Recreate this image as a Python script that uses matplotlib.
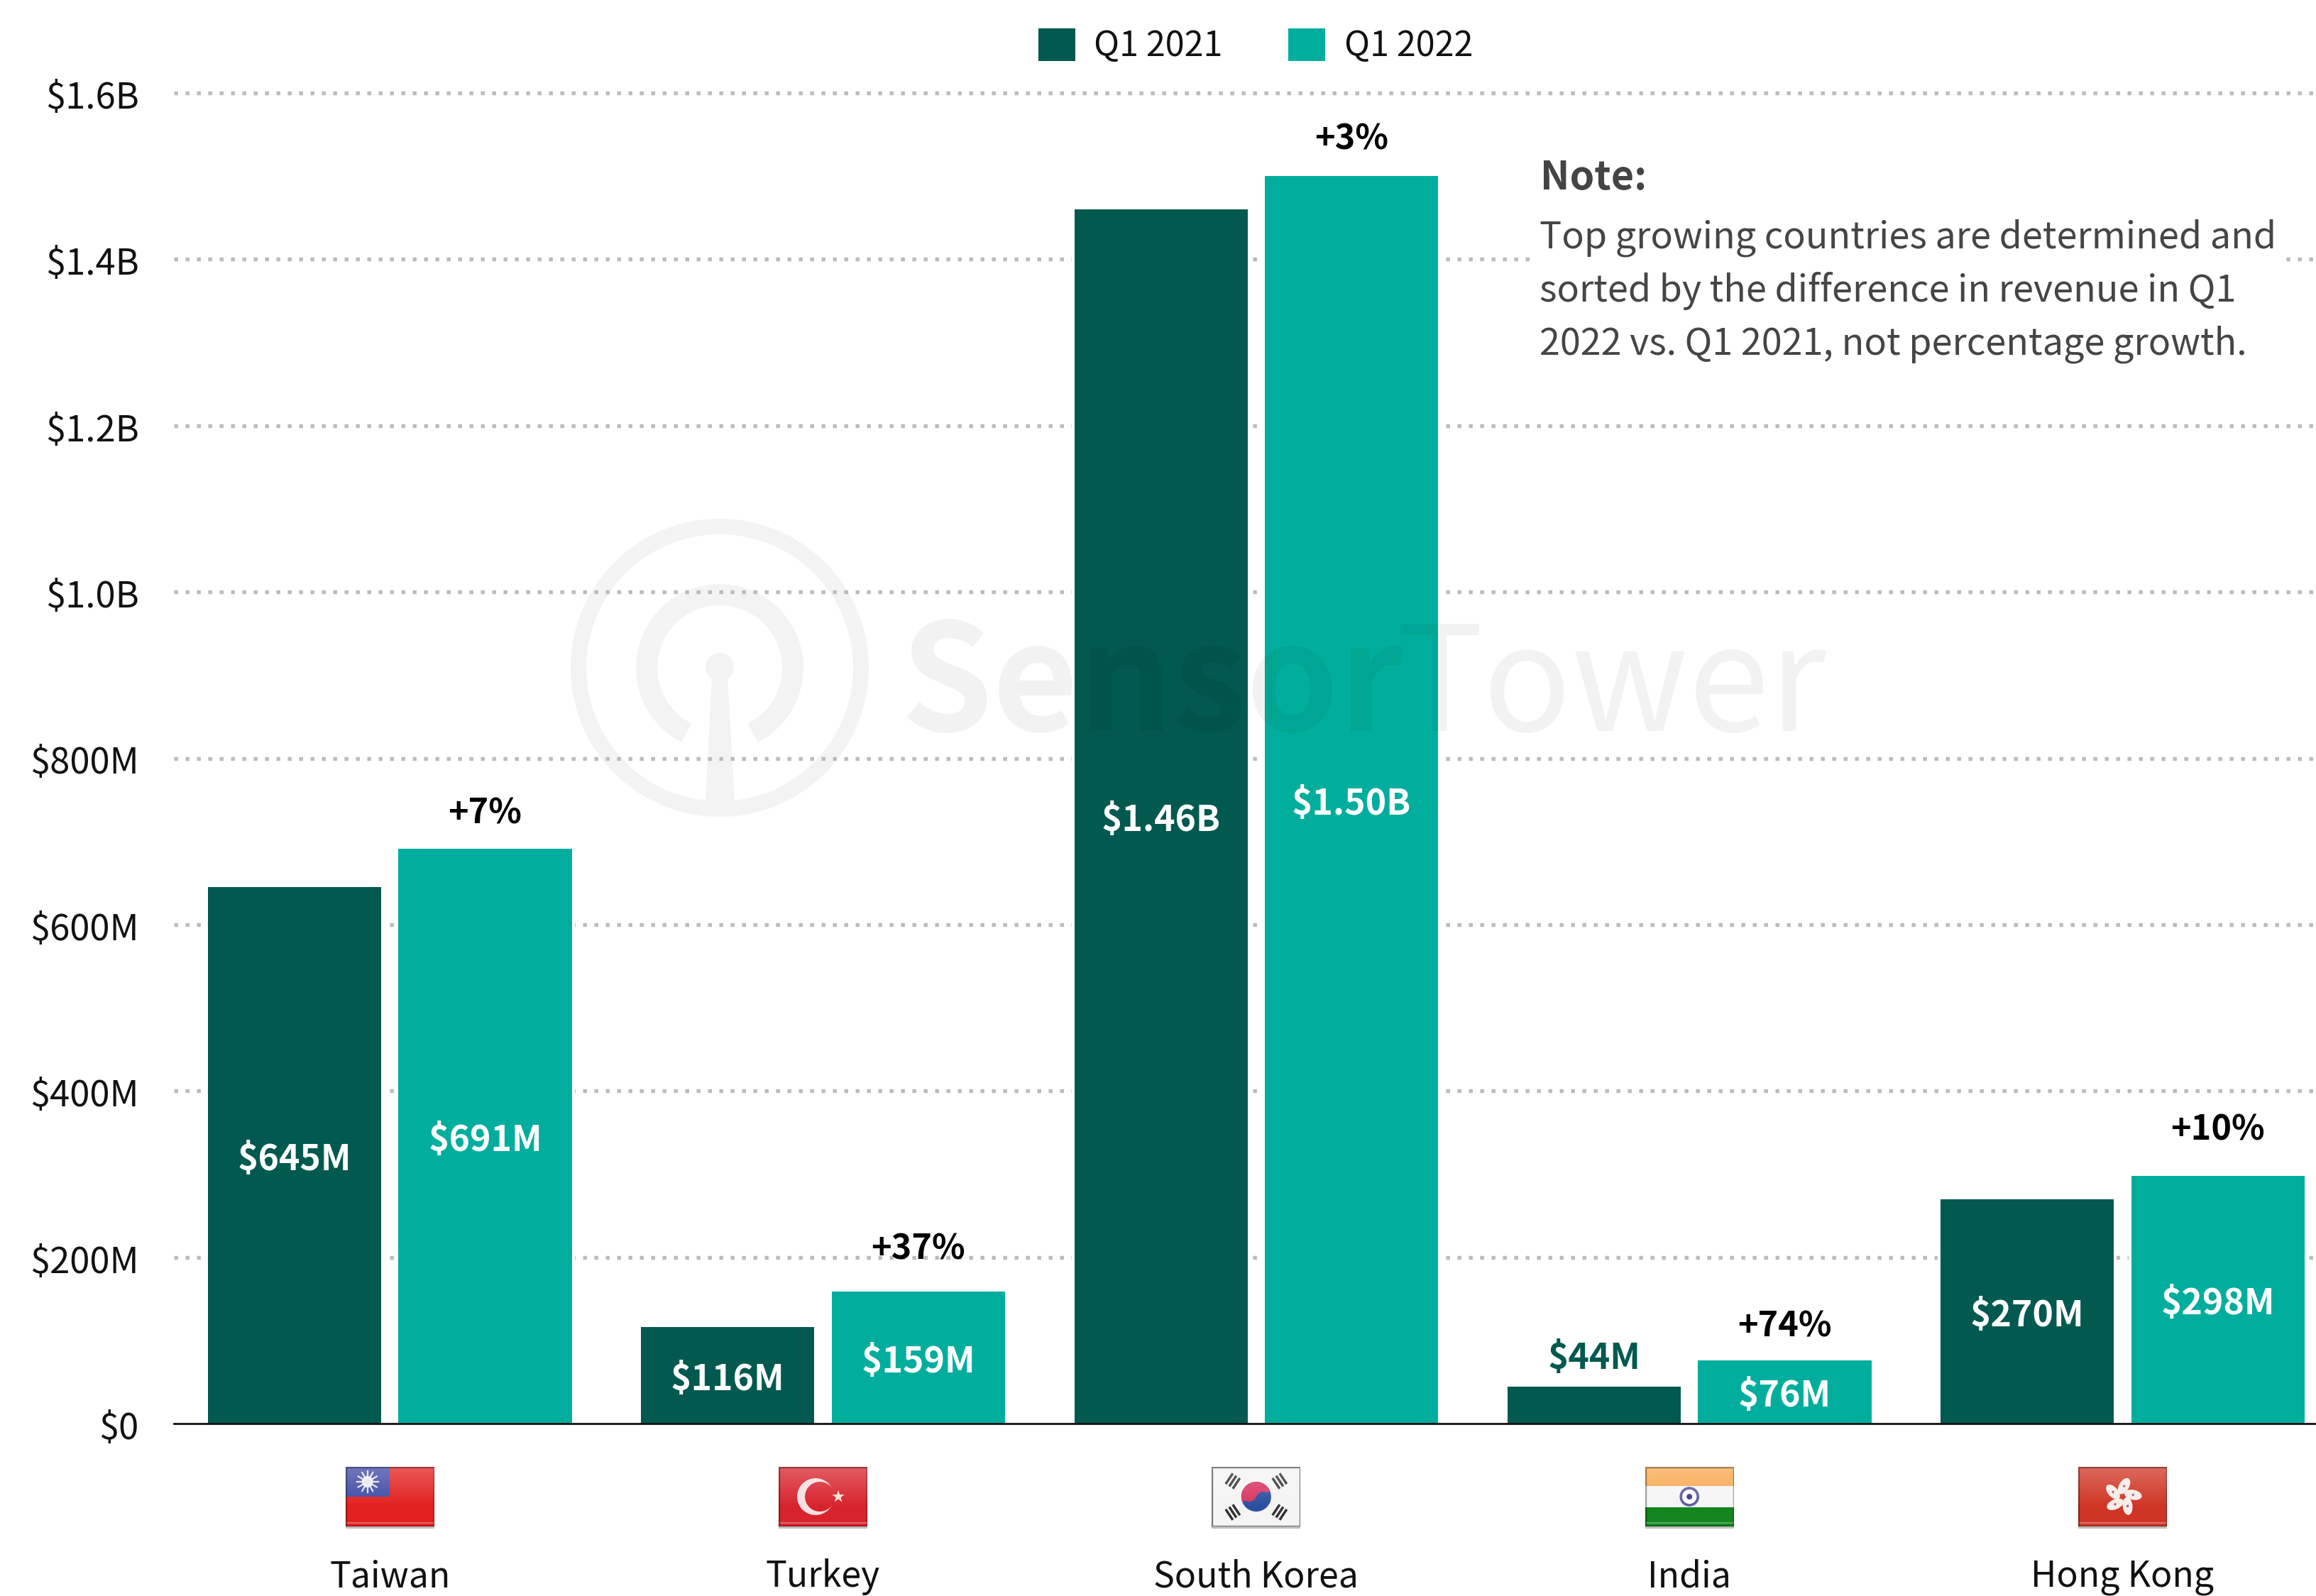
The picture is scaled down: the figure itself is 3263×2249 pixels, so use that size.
import numpy as np
import matplotlib
matplotlib.use('Agg')
import matplotlib.pyplot as plt
from matplotlib.patches import Circle, Wedge, Polygon, Rectangle, Ellipse
from matplotlib.transforms import ScaledTranslation

countries = ['Taiwan', 'Turkey', 'South Korea', 'India', 'Hong Kong']
rev_2021 = [645, 116, 1460, 44, 270]
rev_2022 = [691, 159, 1500, 76, 298]
labels_2021 = ['$645M', '$116M', '$1.46B', '$44M', '$270M']
labels_2022 = ['$691M', '$159M', '$1.50B', '$76M', '$298M']
growth = ['+7%', '+37%', '+3%', '+74%', '+10%']
y_ticks = [0, 200, 400, 600, 800, 1000, 1200, 1400, 1600]
y_labels = ['$0', '$200M', '$400M', '$600M', '$800M', '$1.0B', '$1.2B', '$1.4B', '$1.6B']

DARK = '#02594f'
TEAL = '#01ae9d'
W, H = 3263, 2249
FONT = ['Noto Sans CJK JP', 'DejaVu Sans']

plt.rcParams['font.family'] = FONT
plt.rcParams['lines.scale_dashes'] = False

fig = plt.figure(figsize=(W / 100, H / 100), dpi=100, facecolor='white')

# watermark logo sits behind everything
bg = fig.add_axes([0, 0, 1, 1], zorder=0)
bg.set_xlim(0, W)
bg.set_ylim(H, 0)
bg.axis('off')
mark = '#f3f3f3'
bg.add_patch(Wedge((1014, 941), 210, 0, 360, width=22, fc=mark, ec='none'))
bg.add_patch(Wedge((1014, 941), 118, 117, 423, width=30, fc=mark, ec='none'))
bg.add_patch(Ellipse((1014, 940), 40, 40, fc=mark, ec='none'))
bg.add_patch(Polygon([(1003, 955), (1025, 955), (1036, 1148), (993, 1148)], fc=mark, ec='none'))

ax = fig.add_axes([245 / W, (H - 2006) / H, (W - 245) / W, (2006 - 131) / H], zorder=1)
ax.patch.set_visible(False)

x = np.arange(len(countries))
bar_w = 0.4
off = 0.22
growth_pad = [22, 30, 24, 20, 34]

ax.set_xlim(-0.4985, 4.4465)
ax.set_ylim(0, 1600)
ax.set_yticks(y_ticks, y_labels, fontsize=36.5, color='#111111')
ax.set_xticks(x, countries, fontsize=36, color='#111111')
ax.tick_params(axis='y', length=0, pad=35.5)
ax.tick_params(axis='x', length=0, pad=137)
nudge = ScaledTranslation(0, -2 / 100, fig.dpi_scale_trans)
for lbl in ax.get_yticklabels():
    lbl.set_transform(lbl.get_transform() + nudge)
for s in ['top', 'left', 'right']:
    ax.spines[s].set_visible(False)
ax.spines['bottom'].set_linewidth(2)
ax.spines['bottom'].set_color('#111111')
ax.spines['bottom'].set_zorder(6)

for t in y_ticks[1:]:
    ax.plot([-0.4985, 4.4465], [t, t], color='#bbbbbb', lw=3.9, ls=(0, (3.9, 7.62)),
            clip_on=False, zorder=1, dash_capstyle='butt')

# white halo that breaks the dotted grid around each bar
ax.bar(x - off, rev_2021, bar_w, color='white', edgecolor='white', linewidth=5.7, zorder=2)
ax.bar(x + off, rev_2022, bar_w, color='white', edgecolor='white', linewidth=5.7, zorder=2)
ax.bar(x - off, rev_2021, bar_w, color=DARK, zorder=3, label='Q1 2021')
ax.bar(x + off, rev_2022, bar_w, color=TEAL, zorder=3, label='Q1 2022')

for i in x:
    if rev_2021[i] < 60:
        ax.text(i - off, rev_2021[i] + 12, labels_2021[i], ha='center', va='bottom', fontsize=36,
                fontweight='bold', color=DARK, zorder=5)
    else:
        ax.text(i - off, rev_2021[i] / 2 - 5.5, labels_2021[i], ha='center', va='center', fontsize=36,
                fontweight='bold', color='white', zorder=5)
    ax.text(i + off, rev_2022[i] / 2 - 5.5, labels_2022[i], ha='center', va='center', fontsize=36,
            fontweight='bold', color='white', zorder=5)
    ax.text(i + off, rev_2022[i] + growth_pad[i], growth[i], ha='center', va='bottom', fontsize=35,
            fontweight='bold', color='black', zorder=5)

leg = fig.legend(loc='center', bbox_to_anchor=(1769 / W, 1 - 65 / H), ncol=2, frameon=False,
                 fontsize=35, handlelength=1.07, handleheight=1.07, handletextpad=0.55,
                 columnspacing=1.9, labelcolor='#111111')
for h in leg.legend_handles:
    h.set_edgecolor('none')
    h.set_linewidth(0)

# overlay in pixel coordinates for the note and the watermark wordmark
top = fig.add_axes([0, 0, 1, 1], zorder=2)
top.set_xlim(0, W)
top.set_ylim(H, 0)
top.axis('off')
top.text(1268, 1030, 'Sensor', fontsize=150, fontweight='bold', color='black', alpha=0.05, va='baseline')
top.text(1967, 1030, 'Tower', fontsize=148, color='black', alpha=0.05, va='baseline')

top.add_patch(Rectangle((2165, 290), 1047, 240, fc='white', ec='none', zorder=1))
top.text(2170, 251, 'Note:', fontsize=40, fontweight='bold', color='#444444', va='center', zorder=2)
note_lines = ['Top growing countries are determined and',
              'sorted by the difference in revenue in Q1',
              '2022 vs. Q1 2021, not percentage growth.']
for k, line in enumerate(note_lines):
    top.text(2169, 335 + 75 * k, line, fontsize=37.5, color='#454545', va='center', zorder=2)


def draw_taiwan(a):
    a.add_patch(Rectangle((0, 0), 125, 84, fc='#e2201f', ec='none'))
    a.add_patch(Rectangle((0, 0), 62, 42, fc='#3e49a6', ec='none'))
    for ang in np.arange(0, 360, 30):
        r = np.deg2rad(ang)
        a.plot([31, 31 + 15 * np.cos(r)], [21, 21 + 15 * np.sin(r)], color='#e8e8f4', lw=1.6)
    a.add_patch(Circle((31, 21), 8, fc='white', ec='none'))


def draw_turkey(a):
    a.add_patch(Rectangle((0, 0), 125, 84, fc='#d8232c', ec='none'))
    a.add_patch(Circle((52, 42), 26, fc='#f6dfe0', ec='none'))
    a.add_patch(Circle((58, 42), 21, fc='#d8232c', ec='none'))
    ang = np.deg2rad(np.arange(0, 360, 36) - 90)
    rad = np.where(np.arange(10) % 2 == 0, 9, 3.6)
    a.add_patch(Polygon(np.c_[84 + rad * np.cos(ang), 42 + rad * np.sin(ang)], fc='#f6e4d8', ec='none'))


def draw_korea(a):
    a.add_patch(Rectangle((0, 0), 125, 84, fc='#f4f4f4', ec='#a8a8a8', lw=2))
    a.add_patch(Circle((62.5, 42), 21, fc='#2b4f9e', ec='none'))
    a.add_patch(Wedge((62.5, 42), 21, 160, 340, fc='#d93560', ec='none'))
    a.add_patch(Circle((52.5, 38.5), 10.5, fc='#d93560', ec='none'))
    a.add_patch(Circle((72.5, 45.5), 10.5, fc='#2b4f9e', ec='none'))
    for sx, sy in [(-1, -1), (1, -1), (-1, 1), (1, 1)]:
        cx, cy = 62.5 + sx * 33, 42 + sy * 22
        rad = np.array([sx * 33, sy * 22]) / np.hypot(33, 22)
        tan = np.array([-rad[1], rad[0]])
        for o in (-6, 0, 6):
            p = np.array([cx, cy]) + rad * o
            a.plot([p[0] - tan[0] * 9, p[0] + tan[0] * 9], [p[1] - tan[1] * 9, p[1] + tan[1] * 9],
                   color='#333333', lw=2.5, solid_capstyle='butt')


def draw_india(a):
    a.add_patch(Rectangle((0, 0), 125, 27, fc='#f9a84f', ec='none'))
    a.add_patch(Rectangle((0, 27), 125, 30, fc='#f5f5f5', ec='none'))
    a.add_patch(Rectangle((0, 57), 125, 27, fc='#14851f', ec='none'))
    a.add_patch(Circle((62.5, 42), 12, fc='white', ec='#5a5aa0', lw=2.6))
    a.add_patch(Circle((62.5, 42), 4, fc='#3b3b8f', ec='none'))


def draw_hongkong(a):
    a.add_patch(Rectangle((0, 0), 125, 84, fc='#cf3524', ec='none'))
    for ang in np.arange(0, 360, 72):
        r = np.deg2rad(ang - 90 + 8)
        px, py = 62.5 + 15 * np.cos(r), 42 + 15 * np.sin(r)
        a.add_patch(Ellipse((px, py), 25, 14, angle=ang - 90 + 30, fc='#f6ecea', ec='none'))
        a.add_patch(Circle((px, py), 1.8, fc='#a86a70', ec='none'))


flag_draws = [draw_taiwan, draw_turkey, draw_korea, draw_india, draw_hongkong]
for i, draw in enumerate(flag_draws):
    cx = ax.transData.transform((i, 0))[0]
    # soft shadow strip under the flag icon
    top.add_patch(Rectangle((cx - 62.5, 2151), 125, 3, fc='#bdbdbd', ec='none'))
    fa = fig.add_axes([(cx - 62.5) / W, (H - 2151) / H, 125 / W, 84 / H], zorder=3)
    fa.set_xlim(0, 125)
    fa.set_ylim(84, 0)
    fa.axis('off')
    draw(fa)
    # glossy highlight and a dark rim on the flag icons
    rgba = np.ones((64, 1, 4))
    rgba[:, 0, 3] = np.clip(np.linspace(0.26, -0.12, 64), 0, 1)
    fa.imshow(rgba, extent=(0, 125, 84, 0), aspect='auto', zorder=8)
    fa.plot([2, 123], [79, 79], color='white', alpha=0.3, lw=1.6, zorder=8)
    fa.add_patch(Rectangle((0, 0), 125, 84, fc='none', ec='#00000055', lw=2.5, zorder=9))
    fa.set_xlim(0, 125)
    fa.set_ylim(84, 0)

fig.savefig('out.png', dpi=100)
